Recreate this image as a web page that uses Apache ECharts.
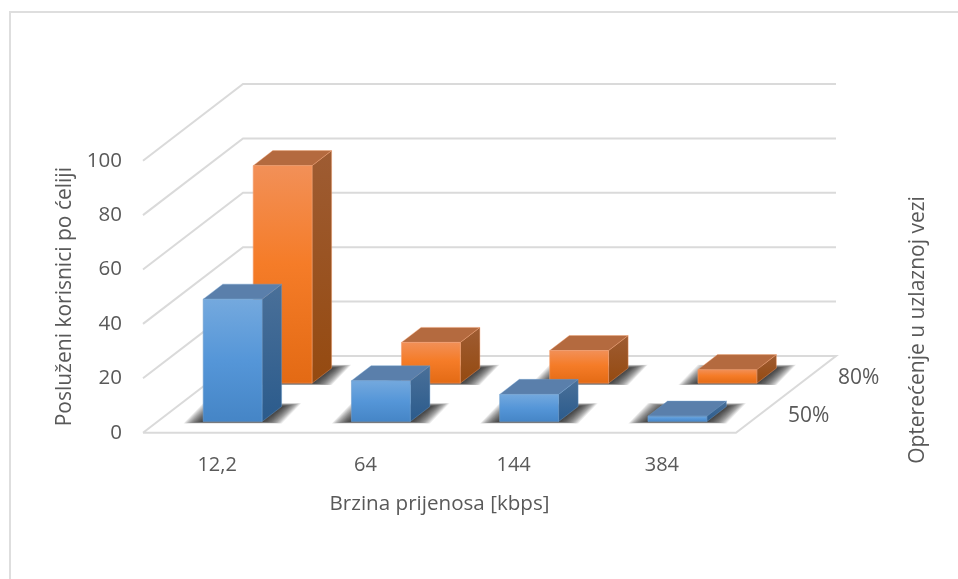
<!DOCTYPE html>
<html>
<head>
<meta charset="utf-8">
<style>html,body{margin:0;padding:0;background:#fff}#c{width:958px;height:579px}</style>
<script src="https://cdn.jsdelivr.net/npm/echarts@6/dist/echarts.min.js"></script>
</head>
<body>
<div id="c"></div>
<script>
var categories = ['12,2', '64', '144', '384'];
var load50 = [45, 15, 10, 2];
var load80 = [80, 15, 12, 5];
var depthLabels = ['50%', '80%'];
var yTicks = [0, 20, 40, 60, 80, 100];

var FONT = '"Open Sans", sans-serif';
var TEXT = '#595959';
var DX = 100, DY = 76.7;
var BAR_DEPTH = 0.196;
var BAR_RATIO = 0.397;
var BAR_NUDGE = 1.0;

function proj(p, d) { return [p[0] + d * DX, p[1] - d * DY]; }
function vgrad(stops) {
  return new echarts.graphic.LinearGradient(0, 0, 0, 1, stops.map(function (s) {
    return { offset: s[0], color: s[1] };
  }));
}

function barSeries(values, depthStart, pal, name) {
  return {
    type: 'custom',
    name: name,
    data: values.map(function (v, i) { return [i, v]; }),
    encode: { x: 0, y: 1 },
    renderItem: function (params, api) {
      var base = api.coord([api.value(0), 0]);
      var top = api.coord([api.value(0), api.value(1)]);
      var hw = api.size([1, 0])[0] * BAR_RATIO / 2;
      var cx = base[0] + BAR_NUDGE;
      var d0 = depthStart, d1 = depthStart + BAR_DEPTH;
      var fl = proj([cx - hw, base[1]], d0), fr = proj([cx + hw, base[1]], d0);
      var bl = proj([cx - hw, base[1]], d1), br = proj([cx + hw, base[1]], d1);
      var tfl = proj([cx - hw, top[1]], d0), tfr = proj([cx + hw, top[1]], d0);
      var tbl = proj([cx - hw, top[1]], d1), tbr = proj([cx + hw, top[1]], d1);
      var children = [];
      for (var k = 0; k < 18; k++) {
        var e = k * 1.15;
        children.push({
          type: 'polygon',
          shape: { points: [[fl[0] - e, fl[1] + k * 0.11], [fr[0] + e, fr[1] + k * 0.11], [br[0] + e, br[1] - k * 0.2], [bl[0] - e, bl[1] - k * 0.2]] },
          style: { fill: 'rgba(20,20,20,0.085)' }
        });
      }
      children.push(
        { type: 'polygon', shape: { points: [tfr, tbr, br, fr] }, style: { fill: vgrad(pal.side), stroke: pal.edge, lineWidth: 0.4 } },
        { type: 'polygon', shape: { points: [tfl, tbl, tbr, tfr] }, style: { fill: pal.top, stroke: pal.edge, lineWidth: 0.4 } },
        { type: 'polygon', shape: { points: [tfl, tfr, fr, fl] }, style: { fill: vgrad(pal.front), stroke: pal.edge, lineWidth: 0.6 } }
      );
      return { type: 'group', children: children };
    }
  };
}

var bluePal = {
  front: [[0, '#74A9DE'], [0.5, '#5596D8'], [1, '#4585C6']],
  side: [[0, '#4A7099'], [1, '#2B5B8C']],
  top: '#5A7FAB', edge: '#6f9fd0'
};
var orangePal = {
  front: [[0, '#F29058'], [0.45, '#F57C28'], [1, '#E36A14']],
  side: [[0, '#9E5C33'], [1, '#954A10']],
  top: '#B46A3F', edge: '#f4a070'
};

var LINE = '#DADADA';
var option = {
  animation: false,
  backgroundColor: '#fff',
  textStyle: { fontFamily: FONT },
  grid: { left: 143, top: 160.7, width: 593, height: 272 },
  xAxis: {
    type: 'category', data: categories,
    axisLine: { show: false }, axisTick: { show: false },
    axisLabel: { color: TEXT, fontSize: 20, fontFamily: FONT, margin: 23 },
    name: 'Brzina prijenosa [kbps]', nameLocation: 'middle', nameGap: 61,
    nameTextStyle: { color: TEXT, fontSize: 20.6, fontFamily: FONT }
  },
  yAxis: {
    type: 'value', min: 0, max: 100, interval: 20,
    axisLine: { show: false }, axisTick: { show: false }, splitLine: { show: false },
    axisLabel: { color: TEXT, fontSize: 20.5, fontFamily: FONT, margin: 21, padding: [5, 0, 0, 0] },
    name: 'Posluženi korisnici po ćeliji', nameLocation: 'middle', nameGap: 67,
    nameTextStyle: { color: TEXT, fontSize: 21, fontFamily: FONT }
  },
  graphic: [
    { type: 'polyline', silent: true, shape: { points: [[10, 579], [10, 12], [958, 12]] }, style: { fill: null, stroke: '#DEDEDE', lineWidth: 2 } },
    { type: 'text', rotation: Math.PI / 2, x: 918, y: 330, silent: true,
      style: { text: 'Opterećenje u uzlaznoj vezi', fill: TEXT, font: '21px ' + FONT, align: 'center', verticalAlign: 'middle' } }
  ],
  series: [
    {
      type: 'custom', name: 'walls', silent: true,
      data: yTicks.map(function (t) { return [0, t]; }),
      encode: { x: 0, y: 1 },
      renderItem: function (params, api) {
        var g = params.coordSys;
        var y = api.coord([0, api.value(1)])[1];
        var left = g.x, right = g.x + g.width;
        var pts = [[left, y], proj([left, y], 1), proj([right, y], 1)];
        if (api.value(1) === 0) { pts.push([right, y]); pts.push([left, y]); }
        return { type: 'polyline', shape: { points: pts }, style: { fill: null, stroke: LINE, lineWidth: 2 } };
      }
    },
    {
      type: 'custom', name: 'depth labels', silent: true,
      data: depthLabels.map(function (l, i) { return [0, 0, i]; }),
      encode: { x: 0, y: 1 },
      renderItem: function (params, api) {
        var g = params.coordSys;
        var y = api.coord([0, 0])[1];
        var d = (api.value(2) + 0.5) / depthLabels.length;
        var p = proj([g.x + g.width, y], d);
        return { type: 'text', x: p[0] + 27, y: p[1] + 2.5,
          style: { text: depthLabels[api.value(2)], fill: TEXT, font: '21px ' + FONT, align: 'left', verticalAlign: 'middle' } };
      }
    },
    barSeries(load80, 0.645, orangePal, '80%'),
    barSeries(load50, 0.145, bluePal, '50%')
  ]
};
var chart = echarts.init(document.getElementById('c'), null, { renderer: 'canvas' });
chart.setOption(option);
</script>
</body>
</html>
